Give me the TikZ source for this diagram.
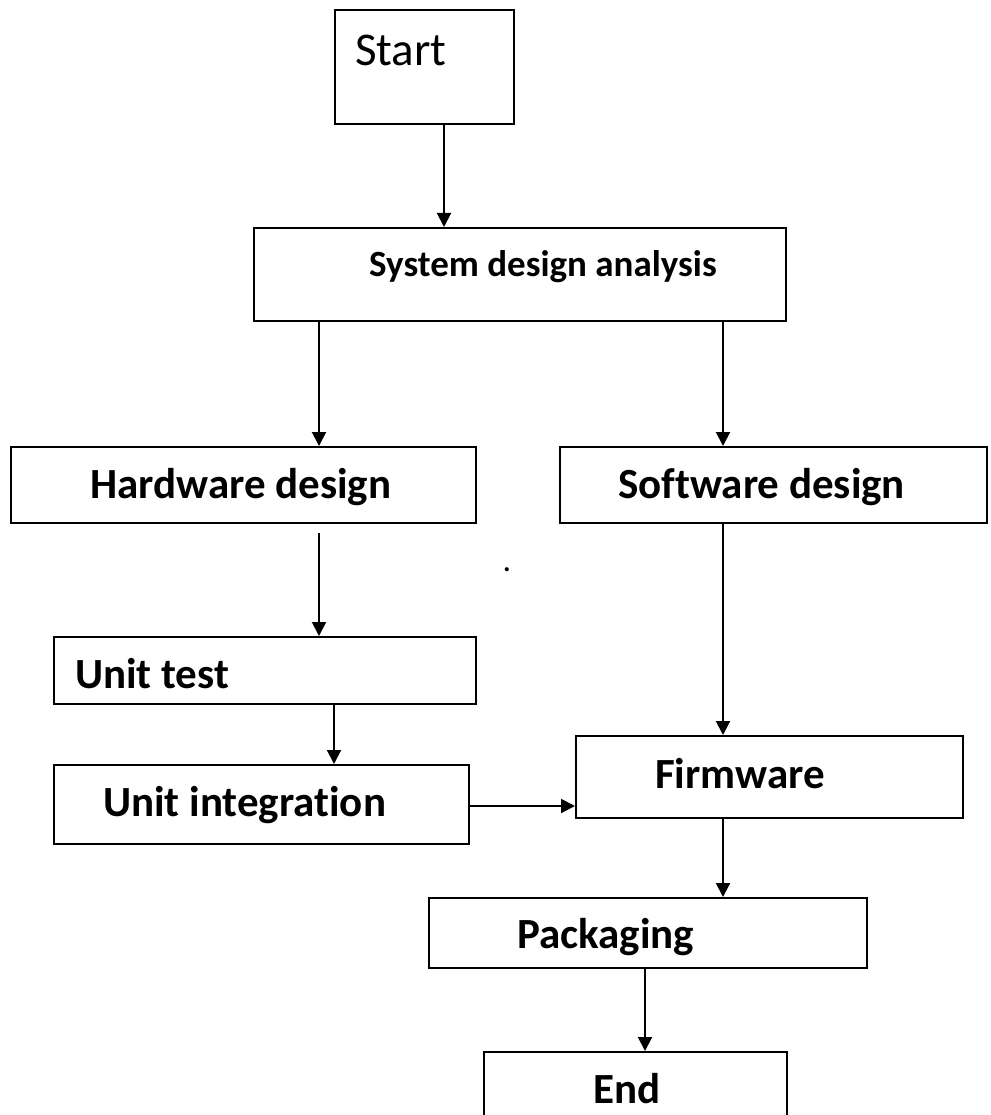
\documentclass[tikz,border=0pt]{standalone}
\usepackage{fontspec}
\setmainfont{Carlito}[Ligatures=NoCommon]
\usetikzlibrary{arrows.meta, positioning}

\begin{document}
\begin{tikzpicture}[
          x=1pt, y=-1pt,
          box/.style={draw, line width=2pt, inner sep=0pt, anchor=north west},
          lbl/.style={anchor=base west, inner sep=0pt,
                      font=\fontsize{43}{50}\selectfont\bfseries},
          arr/.style={line width=2pt, -{Triangle[length=14pt, width=14pt]}}
        ]
        \useasboundingbox (0,0) rectangle (990,1115);
        \clip (0,0) rectangle (990,1115);

        % boxes
        \node[box, minimum width=179pt, minimum height=114pt] (start) at (334,9) {};
        \node[box, minimum width=532pt, minimum height=93pt] (sda) at (253,227) {};
        \node[box, minimum width=465pt, minimum height=76pt] (hw) at (10,446) {};
        \node[box, minimum width=427pt, minimum height=76pt] (sw) at (559,446) {};
        \node[box, minimum width=422pt, minimum height=67pt] (ut) at (53,636) {};
        \node[box, minimum width=415pt, minimum height=79pt] (ui) at (53,764) {};
        \node[box, minimum width=387pt, minimum height=82pt] (fw) at (575,735) {};
        \node[box, minimum width=438pt, minimum height=70pt] (pack) at (428,897) {};
        \node[box, minimum width=303pt, minimum height=100pt] (end) at (483,1051) {};

        % labels
        \node[lbl, font=\fontsize{47}{55}\selectfont] (startlbl) at (355,66) {Start};
        \node[lbl, font=\fontsize{37}{44}\selectfont\bfseries] (sdalbl) at (369,276) {System design analysis};
        \node[lbl] (hwlbl) at (90,498) {Hardware design};
        \node[lbl] (swlbl) at (618,498) {Software design};
        \node[lbl] (utlbl) at (75,688) {Unit test};
        \node[lbl] (uilbl) at (103,816) {Unit integration};
        \node[lbl] (fwlbl) at (655,788) {Firmware};
        \node[lbl] (packlbl) at (517,948) {Packaging};
        \node[lbl] (endlbl) at (593,1103) {End};
        \node[lbl, font=\fontsize{34}{40}\selectfont, anchor=base] (stray) at (507,571) {.};

        % arrow columns
        \coordinate (c1) at (444,0);
        \coordinate (c2) at (319,533);
        \coordinate (c3) at (723,0);
        \coordinate (c4) at (334,0);
        \coordinate (c5) at (645,0);
        \coordinate (r1) at (0,806);

        \draw[arr] (start.south -| c1) -- (sda.north -| c1);
        \draw[arr] (sda.south -| c2) -- (hw.north -| c2);
        \draw[arr] (sda.south -| c3) -- (sw.north -| c3);
        \draw[arr] (c2) -- (ut.north -| c2);
        \draw[arr] (ut.south -| c4) -- (ui.north -| c4);
        \draw[arr] (ui.east |- r1) -- (fw.west |- r1);
        \draw[arr] (sw.south -| c3) -- (fw.north -| c3);
        \draw[arr] (fw.south -| c3) -- (pack.north -| c3);
        \draw[arr] (pack.south -| c5) -- (end.north -| c5);
      \end{tikzpicture}
\end{document}
